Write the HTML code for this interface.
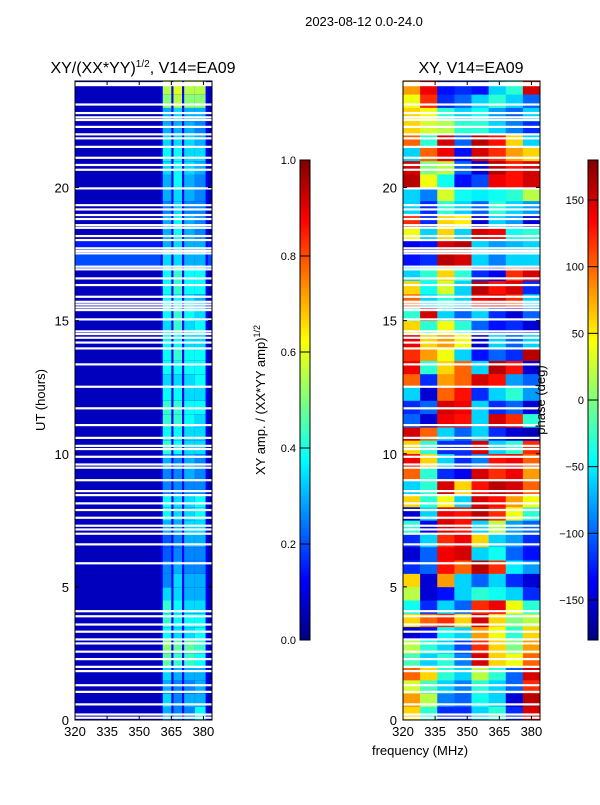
<!DOCTYPE html>
<html><head><meta charset="utf-8"><style>
body{margin:0;background:#fff;}
svg text{font-family:"Liberation Sans","DejaVu Sans",sans-serif;fill:#000;}
</style></head><body>
<svg id="fig" width="600" height="800" xmlns="http://www.w3.org/2000/svg">
<rect width="600" height="800" fill="#fff"/>
<text x="364" y="26" font-size="13" text-anchor="middle">2023-08-12 0.0-24.0</text>
<text x="143" y="73" font-size="16" text-anchor="middle">XY/(XX*YY)<tspan font-size="10" dy="-6">1/2</tspan><tspan dy="6">, V14=EA09</tspan></text>
<text x="471" y="73" font-size="16" text-anchor="middle">XY, V14=EA09</text>
<g id="left"></g>
<g id="right"></g>
<g id="axes"></g>
<text transform="translate(45,400) rotate(-90)" font-size="13" text-anchor="middle">UT (hours)</text>
<text x="420" y="755" font-size="13" text-anchor="middle">frequency (MHz)</text>
<text transform="translate(265,400) rotate(-90)" font-size="13" text-anchor="middle">XY amp. / (XX*YY amp)<tspan font-size="9" dy="-5">1/2</tspan></text>
<text transform="translate(545,400) rotate(-90)" font-size="13" text-anchor="middle">phase (deg)</text>
</svg>
<script>
const utRows=[0,0.5,1,1.5,2,2.5,3,3.5,4,4.5,5,5.5,6,6.5,7,7.5,8,8.5,9,9.5,10,10.5,11,11.5,12,12.5,13,13.5,14,14.5,15,15.5,16,16.5,17,17.5,18,18.5,19,19.5,20,20.5,21,21.5,22,22.5,23,23.5];
const stripeFreqs=[[361,365],[366,370],[371,376],[376,381]];
const ampStripes=[[0.35,0.3,0.3,0.45],[0.4,0.3,0.35,0.35],[0.35,0.3,0.3,0.35],[0.4,0.35,0.35,0.35],[0.55,0.5,0.5,0.45],[0.6,0.55,0.55,0.5],[0.45,0.4,0.4,0.45],[0.5,0.45,0.45,0.45],[0.5,0.45,0.4,0.4],[0.4,0.4,0.35,0.35],[0.3,0.4,0.35,0.35],[0.3,0.35,0.3,0.3],[0.25,0.3,0.3,0.3],[0.25,0.3,0.35,0.35],[0.35,0.35,0.4,0.4],[0.45,0.4,0.4,0.45],[0.45,0.4,0.4,0.45],[0.3,0.3,0.3,0.3],[0.3,0.3,0.35,0.3],[0.35,0.3,0.35,0.3],[0.5,0.45,0.4,0.4],[0.45,0.45,0.4,0.4],[0.5,0.5,0.45,0.4],[0.5,0.5,0.45,0.45],[0.45,0.45,0.4,0.4],[0.4,0.4,0.4,0.45],[0.45,0.45,0.45,0.45],[0.45,0.5,0.45,0.45],[0.45,0.45,0.4,0.4],[0.4,0.5,0.4,0.45],[0.45,0.5,0.45,0.4],[0.45,0.45,0.4,0.35],[0.45,0.5,0.45,0.45],[0.45,0.5,0.45,0.45],[0.4,0.4,0.35,0.35],[0.35,0.4,0.35,0.35],[0.35,0.45,0.35,0.3],[0.35,0.45,0.35,0.3],[0.3,0.4,0.3,0.3],[0.35,0.4,0.35,0.3],[0.35,0.45,0.35,0.3],[0.4,0.45,0.4,0.35],[0.45,0.45,0.4,0.4],[0.4,0.4,0.4,0.35],[0.35,0.35,0.35,0.3],[0.35,0.4,0.35,0.35],[0.6,0.65,0.6,0.6],[0.65,0.7,0.65,0.65]];
const ampBackground=[0.06,0.06,0.06,0.06,0.06,0.06,0.06,0.06,0.06,0.06,0.06,0.06,0.06,0.06,0.06,0.06,0.06,0.06,0.06,0.06,0.06,0.06,0.06,0.06,0.06,0.06,0.06,0.06,0.06,0.06,0.06,0.06,0.06,0.06,0.2,0.15,0.06,0.06,0.06,0.06,0.06,0.06,0.06,0.06,0.06,0.06,0.06,0.06];
const phaseFreqs=[320,328,336,344,352,360,368,376];
const phase=[[60,-30,-120,-120,-60,-30,-120,150],[80,20,-90,-100,-40,-60,-150,160],[30,-20,-60,-90,-30,-60,-100,120],[100,60,-30,-60,20,-30,-100,150],[-20,-60,-30,-90,150,60,40,100],[20,-30,-60,-110,120,60,0,80],[-150,-130,-40,-60,80,40,-30,60],[60,100,120,60,150,60,0,20],[-40,-120,-60,-100,120,140,40,-30],[20,-150,-130,-60,-30,-40,-60,-120],[60,-150,80,-60,-100,-60,-120,-150],[-120,-100,130,100,160,120,-50,-80],[-150,-100,140,150,-60,-40,-100,-130],[-120,-60,120,140,60,-60,-80,-120],[-30,-140,150,130,-60,20,-80,-100],[-150,-60,140,130,160,120,40,-30],[60,-30,40,-60,150,130,80,40],[-60,-30,150,60,130,160,150,100],[100,-30,-120,-140,150,120,140,80],[140,60,-60,-120,-90,130,140,100],[60,-30,-120,-120,150,-60,-30,120],[150,100,-60,-100,-60,-120,-150,-160],[-100,-150,140,130,-60,150,120,-30],[-120,-100,150,140,-60,-120,-100,-150],[-60,-150,100,130,-120,-60,-30,-80],[100,-120,80,100,150,130,-80,-100],[140,-30,60,100,-60,160,130,-150],[120,80,40,-60,-130,-100,-120,160],[140,60,80,40,-150,-60,-100,-60],[60,-30,40,-30,-100,-130,-120,-150],[-30,150,-60,-100,-60,-120,-150,-100],[100,-60,-30,-60,140,150,120,-60],[60,-40,30,-60,160,130,150,-120],[-60,-30,60,-30,-120,-140,120,150],[-130,-120,160,150,-60,-90,-60,-60],[-140,-130,150,160,-60,-80,-70,-60],[40,-60,60,-60,150,140,-40,-30],[120,-120,60,50,-150,-60,-80,-150],[-60,-120,-30,-60,-100,-30,-60,-80],[-60,-90,30,-40,-50,-40,-30,20],[160,40,-40,-130,-110,140,130,150],[150,0,20,-100,-150,160,130,150],[-60,100,140,-130,150,120,80,60],[100,-30,150,-100,160,130,60,-60],[60,30,20,-30,-30,-60,-90,-120],[60,40,-30,-60,-40,-80,-100,-60],[40,120,-120,-100,-60,-30,-60,-100],[80,140,-130,-120,-130,-60,-30,150]];
const blankUT=[23.85,23.92,23.12,22.8,22.64,22.54,22.28,22.0,21.85,21.53,21.12,20.85,20.67,19.97,19.34,19.18,18.97,18.82,18.59,18.49,18.18,18.03,17.72,17.62,17.53,17.03,16.93,16.59,16.34,15.9,15.71,15.61,15.5,15.4,15.05,14.6,14.5,14.36,14.18,13.96,13.36,12.52,11.71,11.08,10.6,10.3,10.18,9.89,9.6,9.48,9.01,8.6,8.45,8.14,7.89,7.6,7.3,7.16,7.0,6.6,5.89,4.09,3.9,3.59,3.32,3.03,2.88,2.57,2.29,2.0,1.84,1.31,1.06,0.59,0.21,0.09];
const xTicks=[320,335,350,365,380];
const yTicks=[0,5,10,15,20];
const ampTicks=[0.0,0.2,0.4,0.6,0.8,1.0];
const phaseTicks=[-150,-100,-50,0,50,100,150];

const NS='http://www.w3.org/2000/svg';
const PY0=720,PY1=81,FMIN=320,FMAX=384;
const yS=u=>PY0-(u/24)*(PY0-PY1);
function xS(x0,x1){return f=>x0+(f-FMIN)/(FMAX-FMIN)*(x1-x0);}
const xL=xS(75,212),xR=xS(403,540);
function jet(v){v=Math.max(0,Math.min(1,v));
 const c=t=>Math.round(255*Math.max(0,Math.min(1,1.5-Math.abs(4*v-t))));
 return `rgb(${c(3)},${c(2)},${c(1)})`;}
function mk(tag,a,p){const e=document.createElementNS(NS,tag);for(const k in a)e.setAttribute(k,a[k]);p.appendChild(e);return e;}
const L=document.getElementById('left'),R=document.getElementById('right'),A=document.getElementById('axes');
utRows.forEach((u,i)=>{
 const y0=yS(u+0.5),y1=yS(u),h=y1-y0+0.3;
 let r=mk('rect',{x:xL(FMIN),y:y0,width:xL(FMAX)-xL(FMIN),height:h,fill:jet(ampBackground[i])},L);
 
 
 r=mk('rect',{x:xL(360),y:y0,width:xL(382)-xL(360),height:h,fill:jet(0.12)},L);
 
 
 stripeFreqs.forEach((sf,j)=>{
  const c=mk('rect',{x:xL(sf[0]),y:y0,width:xL(sf[1])-xL(sf[0]),height:h,fill:jet(ampStripes[i][j]*0.85)},L);
  
  
 });
 phaseFreqs.forEach((f,j)=>{
  const f1=j+1<phaseFreqs.length?phaseFreqs[j+1]:FMAX;
  const c=mk('rect',{x:xR(f),y:y0,width:xR(f1)-xR(f)+0.3,height:h,fill:jet((phase[i][j]+180)/360)},R);
  
  
 });
});
blankUT.forEach(u=>{
 [[xL,'amp'],[xR,'phase']].forEach(([xs,n])=>{
  const b=mk('rect',{x:xs(FMIN),y:yS(u)-1,width:xs(FMAX)-xs(FMIN),height:2.2,fill:'#fff'},n==='amp'?L:R);
  
  
 });
});
[[75,212,xL],[403,540,xR]].forEach(([x0,x1,xs])=>{
 const f=mk('rect',{x:x0,y:PY1,width:x1-x0,height:PY0-PY1,fill:'none',stroke:'#000','stroke-width':1},A);
 
 
 xTicks.forEach(t=>{const X=xs(t);
  mk('line',{x1:X,x2:X,y1:PY0,y2:PY0-4,stroke:'#000'},A);
  mk('line',{x1:X,x2:X,y1:PY1,y2:PY1+4,stroke:'#000'},A);
  const tx=mk('text',{x:X,y:736,'font-size':13,'text-anchor':'middle'},A);tx.textContent=t;
  
  
 });
 yTicks.forEach(t=>{const Y=yS(t);
  mk('line',{x1:x0,x2:x0+4,y1:Y,y2:Y,stroke:'#000'},A);
  mk('line',{x1:x1,x2:x1-4,y1:Y,y2:Y,stroke:'#000'},A);
  const tx=mk('text',{x:x0-6,y:Y+5,'font-size':13,'text-anchor':'end'},A);tx.textContent=t;
  
  
 });
});
function cbar(x,vmin,vmax,ticks,name,fmt){
 const y0=160,y1=640,g=mk('g',{},A);
 
 
 for(let k=0;k<120;k++){mk('rect',{x:x,y:y1-(k+1)*4,width:10,height:4.3,fill:jet((k+0.5)/120)},g);}
 mk('rect',{x:x,y:y0,width:10,height:y1-y0,fill:'none',stroke:'#000'},g);
 ticks.forEach(t=>{const Y=y1-(t-vmin)/(vmax-vmin)*(y1-y0);
  mk('line',{x1:x,x2:x+10,y1:Y,y2:Y,stroke:'#000'},g);
  const tx=mk('text',{x:x-4,y:Y+4,'font-size':11,'text-anchor':'end'},g);tx.textContent=fmt(t);
  
  
 });
}
cbar(300,0,1,ampTicks,'amp-colorbar',t=>t.toFixed(1));
cbar(588,-180,180,phaseTicks,'phase-colorbar',t=>t<0?'\u2212'+(-t):''+t);
</script>
</body></html>
